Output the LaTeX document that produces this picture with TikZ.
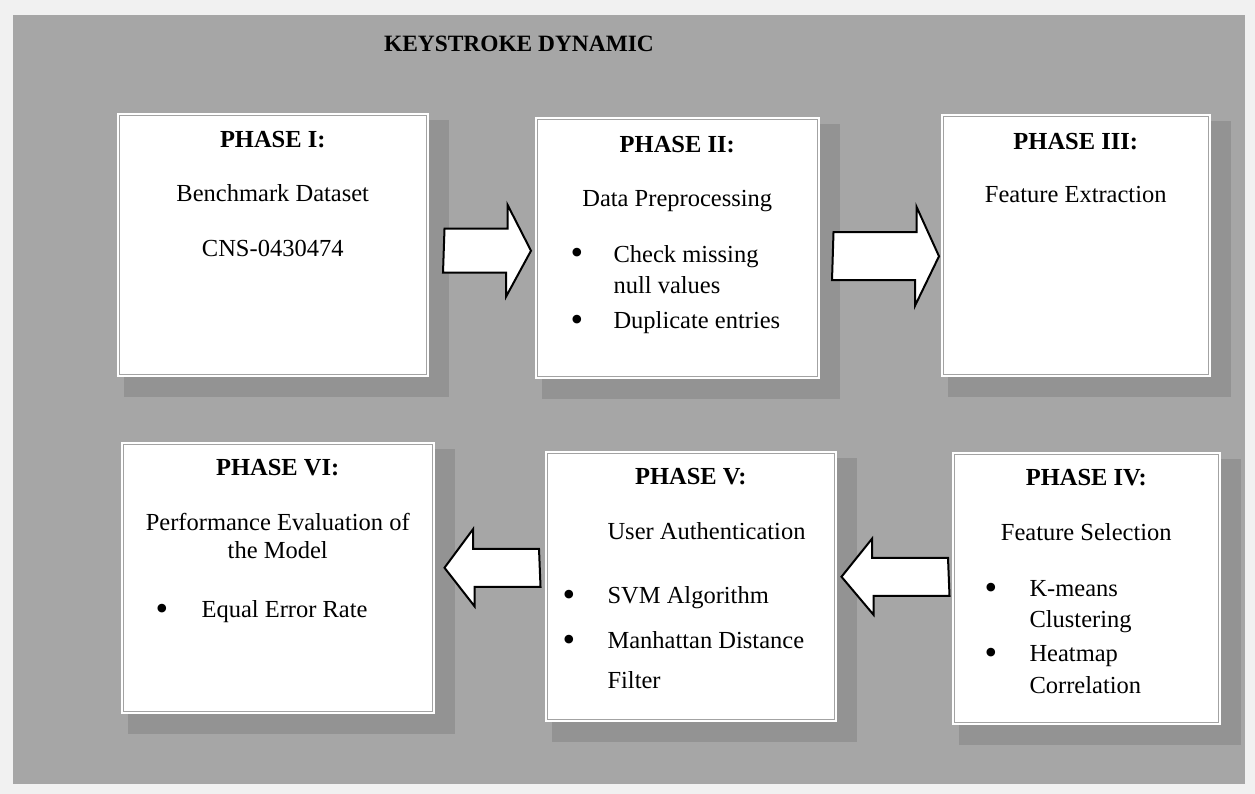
\documentclass[tikz,border=0pt]{standalone}
\usepackage{fontspec}
\setmainfont{Liberation Serif}
\usetikzlibrary{calc,backgrounds}

\definecolor{pagegray}{HTML}{F1F1F1}
\definecolor{framegray}{HTML}{A6A6A6}
\definecolor{shadowgray}{HTML}{939393}
\definecolor{rulegray}{HTML}{A3A3A3}

\begin{document}
\begin{tikzpicture}[
    x=1pt, y=-1pt,
    every node/.style={font=\fontsize{24.5}{29}\selectfont},
    phase/.style={rectangle, draw=white, line width=1.5, fill=white, inner sep=0, anchor=north west},
    head/.style={anchor=base, font=\fontsize{24.5}{29}\selectfont\bfseries},
    txt/.style={anchor=base},
    item/.style={anchor=base west},
    dot/.style={anchor=base, yshift=-3pt, font=\fontsize{36}{36}\selectfont},
    flow/.style={draw=black, fill=white, line width=2, line join=miter}
]
    \useasboundingbox (0,0) rectangle (1255,794);

    \node[head, font=\fontsize{23.4}{28}\selectfont\bfseries] (title) at (519,52) {KEYSTROKE DYNAMIC};

    % phase boxes
    \node[phase, minimum width=310, minimum height=262] (b1) at (117,113) {};
    \node[phase, minimum width=283, minimum height=260] (b2) at (535,117) {};
    \node[phase, minimum width=268, minimum height=261] (b3) at (941,114) {};
    \node[phase, minimum width=267, minimum height=271] (b4) at (952,452) {};
    \node[phase, minimum width=290, minimum height=269] (b5) at (545,451) {};
    \node[phase, minimum width=312, minimum height=270] (b6) at (121,442) {};
    \foreach \b in {b1,b2,b3,b4,b5,b6}
        \draw[rulegray, line width=1] ([shift={(2.5,2.5)}]\b.north west) rectangle ([shift={(-2.5,-2.5)}]\b.south east);

    % phase I
    \node[head] (h1) at ($(b1.north)+(0,35)$) {PHASE I:};
    \node[txt] (t1) at ($(b1.north)+(0,89)$) {Benchmark Dataset};
    \node[txt] (t1b) at ($(b1.north)+(0,144)$) {CNS-0430474};

    % phase II
    \node[head] (h2) at ($(b2.north)+(0,36)$) {PHASE II:};
    \node[txt] (t2) at ($(b2.north)+(0,90)$) {Data Preprocessing};
    \node[dot] (d2a) at ($(b2.north west)+(42,145)$) {\textbullet};
    \node[item] (t2a) at ($(b2.north west)+(75,145)$) {Check missing};
    \node[item] (t2b) at ($(b2.north west)+(75,177)$) {null values};
    \node[dot] (d2c) at ($(b2.north west)+(42,211)$) {\textbullet};
    \node[item] (t2c) at ($(b2.north west)+(75,211)$) {Duplicate entries};

    % phase III
    \node[head] (h3) at ($(b3.north)+(0,36)$) {PHASE III:};
    \node[txt] (t3) at ($(b3.north)+(0,89)$) {Feature Extraction};

    % phase IV
    \node[head] (h4) at ($(b4.north)+(0,33)$) {PHASE IV:};
    \node[txt] (t4) at ($(b4.north)+(0,88)$) {Feature Selection};
    \node[dot] (d4a) at ($(b4.north west)+(39,144)$) {\textbullet};
    \node[item] (t4a) at ($(b4.north west)+(74,144)$) {K-means};
    \node[item] (t4b) at ($(b4.north west)+(74,175)$) {Clustering};
    \node[dot] (d4c) at ($(b4.north west)+(39,209)$) {\textbullet};
    \node[item] (t4c) at ($(b4.north west)+(74,209)$) {Heatmap};
    \node[item] (t4d) at ($(b4.north west)+(74,241)$) {Correlation};

    % phase V
    \node[head] (h5) at ($(b5.north)+(0,33)$) {PHASE V:};
    \node[item] (t5) at ($(b5.north west)+(59,88)$) {User Authentication};
    \node[dot] (d5a) at ($(b5.north west)+(24,152)$) {\textbullet};
    \node[item] (t5a) at ($(b5.north west)+(59,152)$) {SVM Algorithm};
    \node[dot] (d5b) at ($(b5.north west)+(24,197)$) {\textbullet};
    \node[item] (t5b) at ($(b5.north west)+(59,197)$) {Manhattan Distance};
    \node[item] (t5c) at ($(b5.north west)+(59,237)$) {Filter};

    % phase VI
    \node[head] (h6) at ($(b6.north)+(0,33)$) {PHASE VI:};
    \node[txt] (t6) at ($(b6.north)+(0,88)$) {Performance Evaluation of};
    \node[txt] (t6b) at ($(b6.north)+(0,116)$) {the Model};
    \node[dot] (d6a) at ($(b6.north west)+(41,175)$) {\textbullet};
    \node[item] (t6a) at ($(b6.north west)+(77,175)$) {Equal Error Rate};

    % block arrows between phases (tail and tip)
    \coordinate (a12s) at ($(b1.east)+(16,6)$);
    \coordinate (a12e) at ($(b2.west)+(-4,3)$);
    \coordinate (a23s) at ($(b2.east)+(14,8.5)$);
    \coordinate (a23e) at ($(b3.west)+(-2,11)$);
    \coordinate (a45s) at ($(b4.west)+(-4,-11.5)$);
    \coordinate (a45e) at ($(b5.east)+(5,-9.5)$);
    \coordinate (a56s) at ($(b5.west)+(-6,-18.5)$);
    \coordinate (a56e) at ($(b6.east)+(10,-10)$);

    \draw[flow] ($(a12s)+(0,-22)$) -- ++(63,0) -- ++(0,-24) -- (a12e) -- ++(-25,46) -- ++(0,-24) -- ++(-63,0) -- cycle;
    \draw[flow] ($(a23s)+(0,-24)$) -- ++(83,0) -- ++(0,-25.5) -- (a23e) -- ++(-24,49.5) -- ++(0,-25.5) -- ++(-83,0) -- cycle;
    \draw[flow] ($(a45s)+(0,-19)$) -- ++(-76,0) -- ++(0,-19) -- (a45e) -- ++(32,38) -- ++(0,-19) -- ++(76,0) -- cycle;
    \draw[flow] ($(a56s)+(0,-19)$) -- ++(-66,0) -- ++(0,-19.5) -- (a56e) -- ++(30,38.5) -- ++(0,-19.5) -- ++(66,0) -- cycle;

    \begin{scope}[on background layer]
        \fill[pagegray] (0,0) rectangle (1255,794);
        \fill[framegray] (13,15) rectangle (1245,784);
        \foreach \b in {b1,b2,b3,b4,b5,b6}
            \fill[shadowgray] ([shift={(7,7)}]\b.north west) rectangle ([shift={(20,20)}]\b.south east);
    \end{scope}
\end{tikzpicture}
\end{document}
